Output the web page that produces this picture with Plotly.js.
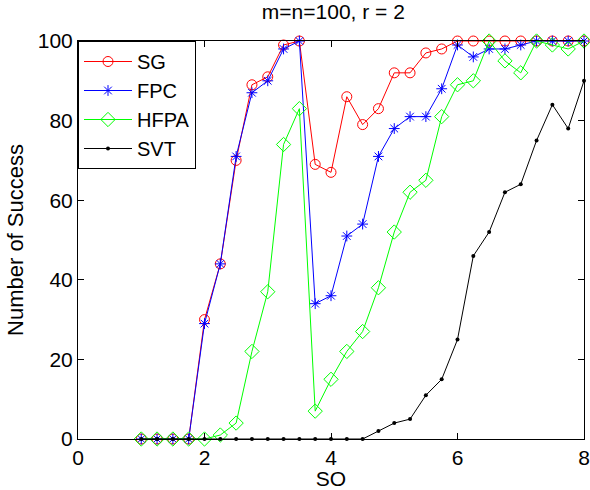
<!DOCTYPE html>
<html>
<head>
<meta charset="utf-8">
<script src="https://cdn.plot.ly/plotly-3.0.1.min.js"></script>
<style>html,body{margin:0;padding:0;background:#fff;}#chart{width:590px;height:490px;}</style>
</head>
<body>
<div id="chart"></div>
<script>
const so = [1, 1.25, 1.5, 1.75, 2, 2.25, 2.5, 2.75, 3, 3.25, 3.5, 3.75, 4, 4.25, 4.5, 4.75, 5, 5.25, 5.5, 5.75, 6, 6.25, 6.5, 6.75, 7, 7.25, 7.5, 7.75, 8];
const sg   = [0, 0, 0, 0, 30, 44, 70, 89, 91, 99, 100, 69, 67, 86, 79, 83, 92, 92, 97, 98, 100, 100, 100, 100, 100, 100, 100, 100, 100];
const fpc  = [0, 0, 0, 0, 29, 44, 71, 87, 90, 98, 100, 34, 36, 51, 54, 71, 78, 81, 81, 88, 99, 96, 98, 98, 99, 100, 100, 100, 100];
const hfpa = [0, 0, 0, 0, 0, 1, 4, 22, 37, 74, 83, 7, 15, 22, 27, 38, 52, 62, 65, 81, 89, 90, 100, 95, 92, 100, 99, 98, 100];
const svt  = [0, 0, 0, 0, 0, 0, 0, 0, 0, 0, 0, 0, 0, 0, 0, 2, 4, 5, 11, 15, 25, 46, 52, 62, 64, 75, 84, 78, 90];
const xTicks = [0, 2, 4, 6, 8];
const yTicks = [0, 20, 40, 60, 80, 100];

const fam = 'Liberation Sans, Arial, sans-serif';
const tickFont = {family: fam, size: 21, color: '#000'};
const titleFont = {family: fam, size: 21, color: '#000'};
const xTitleFont = {family: fam, size: 21, color: '#000'};
const yTitleFont = {family: fam, size: 22, color: '#000'};
const legendFont = {family: fam, size: 20, color: '#000'};

const traces = [
  {x: so, y: sg, name: 'SG', mode: 'lines+markers', cliponaxis: false,
   line: {color: '#ff0000', width: 1},
   marker: {symbol: 'circle-open', size: 10, color: '#ff0000', line: {width: 1}}},
  {x: so, y: fpc, name: 'FPC', mode: 'lines+markers', cliponaxis: false,
   line: {color: '#0000ff', width: 1},
   marker: {symbol: 'asterisk-open', size: 9, color: '#0000ff', line: {width: 1, color: '#0000ff'}}},
  {x: so, y: hfpa, name: 'HFPA', mode: 'lines+markers', cliponaxis: false,
   line: {color: '#00ff00', width: 1},
   marker: {symbol: 'diamond-open', size: 11, color: '#00ff00', line: {width: 1}}},
  {x: so, y: svt, name: 'SVT', mode: 'lines+markers', cliponaxis: false,
   line: {color: '#000000', width: 1},
   marker: {symbol: 'circle', size: 4, color: '#000000'}}
];

const axisCommon = {
  showgrid: false, zeroline: false, showline: true, linecolor: '#000', linewidth: 1,
  mirror: 'ticks', ticks: 'inside', ticklen: 6, tickcolor: '#000', tickwidth: 1,
  tickfont: tickFont
};

const layout = {
  width: 590, height: 490,
  margin: {l: 78, r: 6, t: 41, b: 51},
  paper_bgcolor: '#fff', plot_bgcolor: '#fff',
  font: tickFont,
  title: {text: 'm=n=100, r = 2', font: titleFont, x: 0.565, xanchor: 'center', y: 0.976, yanchor: 'middle'},
  xaxis: Object.assign({}, axisCommon, {
    range: [0, 8], tickvals: xTicks, ticktext: xTicks.map(String),
    title: {text: 'SO', font: xTitleFont, standoff: 4}
  }),
  yaxis: Object.assign({}, axisCommon, {
    range: [0, 100], tickvals: yTicks, ticktext: yTicks.map(String),
    title: {text: 'Number of Success', font: yTitleFont, standoff: 8}
  }),
  showlegend: true,
  legend: {x: 0, y: 1, xanchor: 'left', yanchor: 'top', bgcolor: '#fff',
           bordercolor: '#000', borderwidth: 1, font: legendFont, itemwidth: 48,
           tracegroupgap: 0}
};

Plotly.newPlot('chart', traces, layout, {displayModeBar: false, staticPlot: true});
</script>
</body>
</html>
